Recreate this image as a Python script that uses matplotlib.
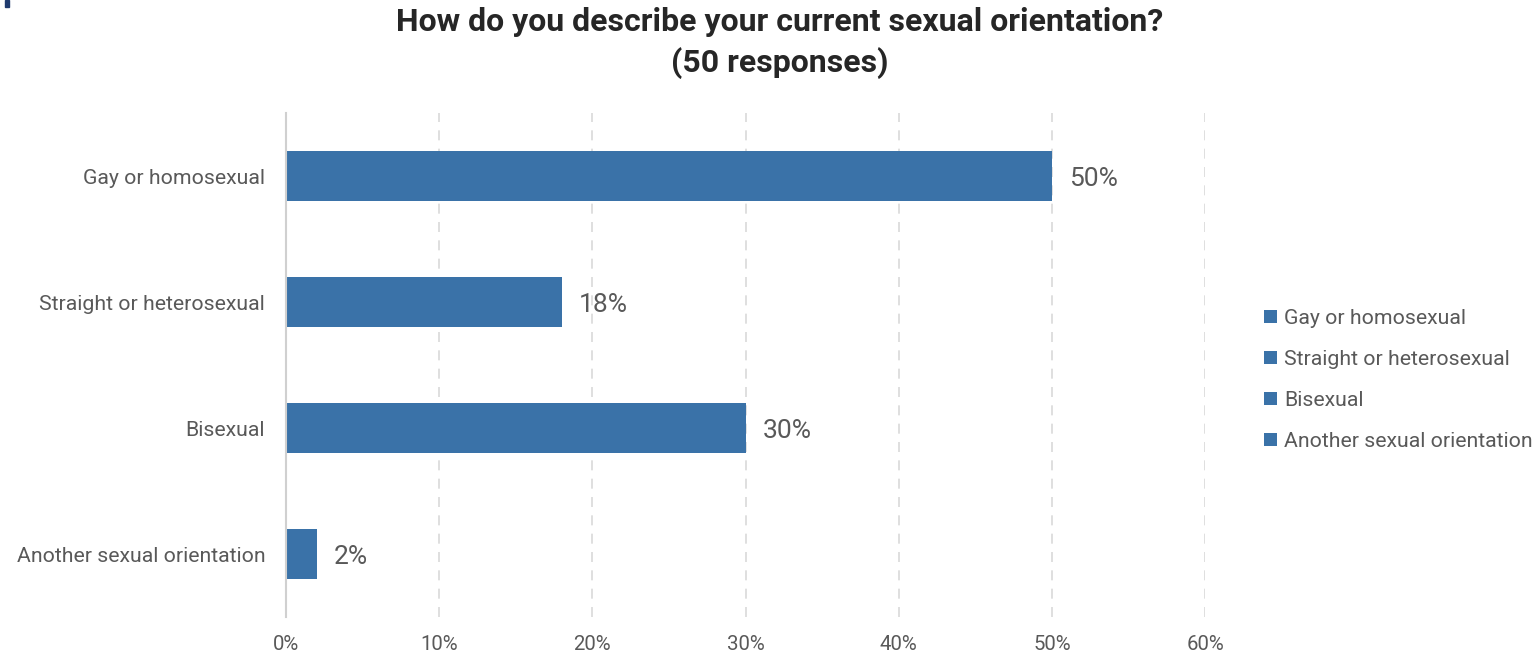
import numpy as np
import matplotlib.pyplot as plt
from matplotlib.patches import Patch, Rectangle

plt.rcParams['font.family'] = ['Roboto', 'DejaVu Sans']

categories = ['Gay or homosexual', 'Straight or heterosexual', 'Bisexual', 'Another sexual orientation']
values = [50, 18, 30, 2]
xticks = [0, 10, 20, 30, 40, 50, 60]

bar_color = '#3A72A8'
text_color = '#595959'

fig = plt.figure(figsize=(15.34, 6.54), dpi=100)
ax = fig.add_axes([286 / 1534, 1 - 617 / 654, (1205 - 286) / 1534, 504 / 654])

y = np.arange(len(categories))
bars = ax.barh(y, values, height=0.4, color=bar_color, zorder=3)
for yi, v in zip(y, values):
    ax.text(v + 1.1, yi + 0.02, f'{v}%', va='center', ha='left', fontsize=19, color=text_color)

ax.set_xlim(0, 60)
ax.set_ylim(3.5, -0.5)
ax.set_xticks(xticks)
ax.set_xticklabels([f'{t}%' for t in xticks])
ax.set_yticks(y)
ax.set_yticklabels(categories)
ax.tick_params(axis='x', length=0, pad=13, labelsize=14.7, labelcolor=text_color)
ax.tick_params(axis='y', length=0, pad=15, labelsize=15.3, labelcolor=text_color)
ax.grid(axis='x', linestyle=(0, (6, 5)), color='#D9D9D9', linewidth=1.2, zorder=0)
for s in ['top', 'right', 'bottom']:
    ax.spines[s].set_visible(False)
ax.spines['left'].set_color('#D0D0D0')
ax.spines['left'].set_linewidth(1.5)
ax.spines['left'].set_zorder(4)

fig.suptitle('How do you describe your current sexual orientation?\n(50 responses)',
             x=0.508, y=0.989, fontsize=23, fontweight='bold', color='#262626', linespacing=1.39)

handles = [Patch(facecolor=bar_color, label=c) for c in categories]
fig.legend(handles=handles, loc='center left', bbox_to_anchor=(1245 / 1534, 1 - 380 / 654),
           frameon=False, fontsize=15.3, labelcolor=text_color, handlelength=0.6,
           handleheight=0.6, handletextpad=0.35, labelspacing=1.03)

# small corner mark
fig.patches.append(Rectangle((5 / 1534, 1 - 7 / 654), 4 / 1534, 7 / 654,
                             transform=fig.transFigure, color='#1F3A6E'))

fig.savefig('out.png', dpi=100)
